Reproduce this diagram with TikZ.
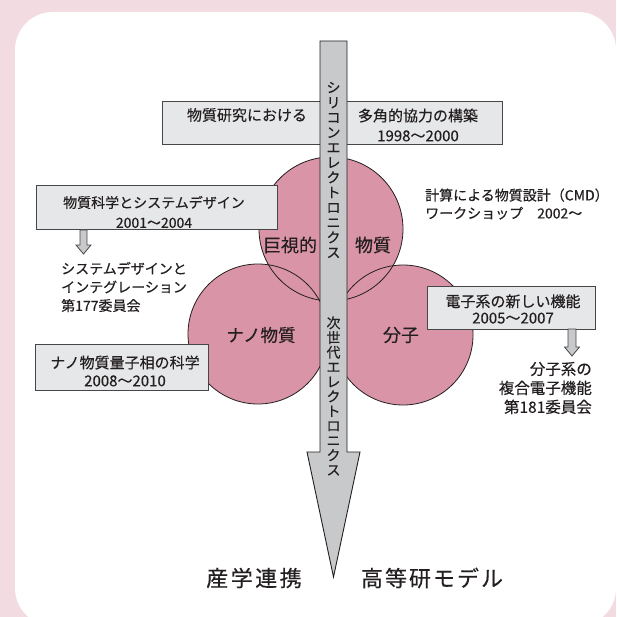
\documentclass[tikz,border=0pt]{standalone}
\usepackage{fontspec}
\usetikzlibrary{calc}
\setmainfont{Noto Sans CJK JP}[FakeBold=0.35]
\definecolor{bgpink}{RGB}{242,220,225}
\definecolor{circpink}{RGB}{218,148,168}
\definecolor{boxgray}{RGB}{230,231,232}
\definecolor{bargray}{RGB}{200,201,203}
\definecolor{ink}{RGB}{35,31,32}
\definecolor{edge}{RGB}{70,70,72}
\tikzset{
  boxst/.style={draw=edge, line width=1pt, fill=boxgray, inner sep=0pt},
  txt/.style={inner sep=0pt, text=ink},
  circfill/.style={fill=circpink},
  circline/.style={draw=ink, line width=0.8pt},
  barst/.style={draw=ink, line width=0.9pt, fill=bargray, line join=miter},
  blockarrow/.style={draw=edge, line width=0.8pt, fill=bargray},
}
\newcommand{\fsz}[2]{\fontsize{#1}{#2}\selectfont}
\begin{document}
\begin{tikzpicture}[x=1pt,y=-1pt]
\useasboundingbox (0,0) rectangle (616,617);
\clip (0,0) rectangle (616,617);
\fill[bgpink] (0,0) rectangle (616,617);
\fill[white, rounded corners=38pt] (15,12) rectangle (616,626);

% circles
\fill[circfill] (331,229) circle[radius=72pt];
\fill[circfill] (258,334) circle[radius=70pt];
\fill[circfill] (403,335) circle[radius=70pt];
\draw[circline] (331,229) circle[radius=72pt];
\draw[circline] (258,334) circle[radius=70pt];
\draw[circline] (403,335) circle[radius=70pt];

% circle labels
\node[txt, font=\fsz{18}{20}] (l1) at (290,245) {巨視的};
\node[txt, font=\fsz{18}{20}] (l2) at (373,245) {物質};
\node[txt, font=\fsz{17.5}{20}] (l3) at (261,335) {ナノ物質};
\node[txt, font=\fsz{18}{20}] (l4) at (401,335) {分子};

% box 1 (under the bar)
\node[boxst, minimum width=340pt, minimum height=43pt] (b1) at (332,123.5) {};
\node[txt, font=\fsz{15}{20}] (b1a) at (247,115) {物質研究における};
\node[txt, font=\fsz{15}{20}, align=center] (b1b) at (418,125) {多角的協力の構築\\1998～2000};

% central bar arrow
\coordinate (bartop) at (333.5,41);
\coordinate (bartip) at (333.5,577);
\draw[barst] ($(bartop)+(-13.5,0)$) -- ($(bartop)+(13.5,0)$) -- (347,452) -- (360,452) -- (bartip) -- (307,452) -- (320,452) -- cycle;
\node[txt, font=\fsz{14}{15}, align=center] (v1) at (333.5,170) {シ\\リ\\コ\\ン\\エ\\レ\\ク\\ト\\ロ\\ニ\\ク\\ス};
\node[txt, font=\fsz{14}{14.7}, align=center] (v2) at (333.5,396) {次\\世\\代\\エ\\レ\\ク\\ト\\ロ\\ニ\\ク\\ス};

% box 2
\node[boxst, minimum width=241pt, minimum height=44pt] (b2) at (156.5,208) {};
\node[txt, font=\fsz{14}{20}, align=center] (b2t) at (154,212) {物質科学とシステムデザイン\\2001～2004};
\coordinate (a2) at (83.5,230);
\draw[blockarrow] ($(a2)+(-3.5,0)$) -- ($(a2)+(3.5,0)$) -- ($(a2)+(3.5,15)$) -- ($(a2)+(7.5,15)$) -- ($(a2)+(0,24)$) -- ($(a2)+(-7.5,15)$) -- ($(a2)+(-3.5,15)$) -- cycle;
\node[txt, font=\fsz{14}{18.5}, align=left, anchor=west] (t2) at (61,287) {システムデザインと\\インテグレーション\\第177委員会};

% CMD text
\node[txt, font=\fsz{14}{18}, align=left, anchor=west] (t3) at (425,204) {計算による物質設計（CMD）\\ワークショップ　2002～};

% box 4
\node[boxst, minimum width=168pt, minimum height=43pt] (b4) at (511,307.5) {};
\node[txt, font=\fsz{15}{16.5}, align=center] (b4t) at (513,309) {電子系の新しい機能\\2005～2007};
\coordinate (a4) at (572,329);
\draw[blockarrow] ($(a4)+(-4,0)$) -- ($(a4)+(4,0)$) -- ($(a4)+(4,18)$) -- ($(a4)+(7.5,18)$) -- ($(a4)+(0,27)$) -- ($(a4)+(-7.5,18)$) -- ($(a4)+(-4,18)$) -- cycle;
\node[txt, font=\fsz{15.5}{19}, align=right, anchor=east] (t4) at (592,388) {分子系の\\複合電子機能\\第181委員会};

% box 5
\node[boxst, minimum width=173pt, minimum height=46pt] (b5) at (121.5,367) {};
\node[txt, font=\fsz{15}{18}, align=center] (b5t) at (125,371) {ナノ物質量子相の科学\\2008～2010};

% bottom labels
\node[txt, font=\fsz{22}{24}] (m1) at (254,578) {産\hspace{2.5pt}学\hspace{2.5pt}連\hspace{2.5pt}携};
\node[txt, font=\fsz{22}{24}] (m2) at (432,578) {高\hspace{2pt}等\hspace{2pt}研\hspace{2pt}モ\hspace{2pt}デ\hspace{2pt}ル};
\end{tikzpicture}
\end{document}
